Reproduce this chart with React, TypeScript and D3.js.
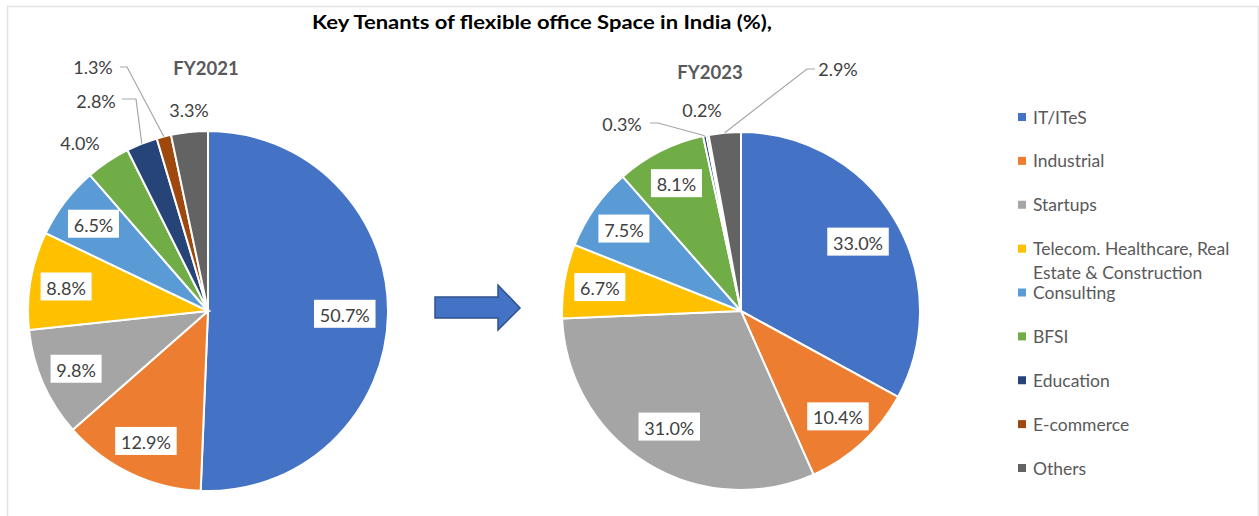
import React from 'react';
import * as d3 from 'd3';

// categories and shares (%)
const categories = ['IT/ITeS', 'Industrial', 'Startups', 'Telecom. Healthcare, Real Estate & Construction', 'Consulting', 'BFSI', 'Education', 'E-commerce', 'Others'];
const legendLines = [['IT/ITeS'], ['Industrial'], ['Startups'], ['Telecom. Healthcare, Real', 'Estate & Construction'], ['Consulting'], ['BFSI'], ['Education'], ['E-commerce'], ['Others']];
const fy2021 = [50.7, 12.9, 9.8, 8.8, 6.5, 4.0, 2.8, 1.3, 3.3];
const fy2023 = [33.0, 10.4, 31.0, 6.7, 7.5, 8.1, 0.3, 0.2, 2.9];
const colors = ['#4472C4', '#ED7D31', '#A5A5A5', '#FFC000', '#5B9BD5', '#70AD47', '#264478', '#9E480E', '#636363'];

// labels that sit outside the pie (offset from pie centre), with optional leader start/elbow
const outside2021 = {
  5: { dx: -128, dy: -168 },
  8: { dx: -19, dy: -201 },
  6: { dx: -112, dy: -210, lx: -86, ex: -72, ly: -212 },
  7: { dx: -115, dy: -244, lx: -88, ex: -81, ly: -244 },
};
const outside2023 = {
  6: { dx: -119, dy: -187, lx: -91, ex: -83, ly: -188 },
  7: { dx: -39, dy: -201 },
  8: { dx: 97, dy: -242, lx: 74, ex: 66, ly: -242 },
};

const font = 'Lato, "Open Sans", sans-serif';
const textGray = '#404040';

const Pie = ({ cx, cy, r, values, outside, year }) => {
  const pie = d3.pie().sort(null).value(d => d)(values);
  const arc = d3.arc().innerRadius(0).outerRadius(r);
  const edge = d3.arc().innerRadius(r).outerRadius(r);

  return (
    <g transform={'translate(' + cx + ',' + cy + ')'}>
      {pie.map((p, i) => (
        <path key={i} d={arc(p)} fill={colors[i]} stroke="#fff" strokeWidth={2} />
      ))}
      {pie.map((p, i) => {
        const label = values[i].toFixed(1) + '%';
        const o = outside[i];
        if (o) {
          const [ax, ay] = edge.centroid(p);
          return (
            <g key={'l' + i}>
              {o.lx !== undefined && (
                <polyline
                  points={o.lx + ',' + o.ly + ' ' + o.ex + ',' + o.ly + ' ' + ax + ',' + ay}
                  fill="none" stroke="#A6A6A6" strokeWidth={1.2} />
              )}
              <text x={o.dx} y={o.dy} textAnchor="middle" dominantBaseline="central"
                fontFamily={font} fontSize={18} fill={textGray}>{label}</text>
            </g>
          );
        }
        // inside labels: big slices sit a little closer to the centre
        const mid = (p.startAngle + p.endAngle) / 2;
        const lr = r * (values[i] > 25 ? 0.76 : 0.8);
        const x = Math.sin(mid) * lr;
        const y = -Math.cos(mid) * lr;
        const w = label.length * 10.5 + 9;
        return (
          <g key={'l' + i}>
            <rect x={x - w / 2} y={y - 14} width={w} height={28} fill="#fff" />
            <text x={x} y={y + 1} textAnchor="middle" dominantBaseline="central"
              fontFamily={font} fontSize={18} fill={textGray}>{label}</text>
          </g>
        );
      })}
      <text x={year.dx} y={year.dy} textAnchor="middle" dominantBaseline="central"
        fontFamily={font} fontWeight="bold" fontSize={18.5} fill="#595959">{year.text}</text>
    </g>
  );
};

const App = () => {
  const width = 1259;
  const height = 516;
  const legendY = d3.scaleLinear().domain([0, 8]).range([117, 468]);

  return (
    <svg width={width} height={height} style={{ position: 'absolute', left: 0, top: 0, background: '#fff' }}>
      <rect x={7.5} y={6.5} width={1251} height={520} fill="#fff" stroke="#E3E3E3" strokeWidth={1.5} />

      <text x={542} y={22} textAnchor="middle" dominantBaseline="central" fontFamily={font}
        fontWeight="bold" fontSize={18} fill="#000" textLength={460} lengthAdjust="spacingAndGlyphs">
        Key Tenants of flexible office Space in India (%),
      </text>

      <Pie cx={208} cy={311} r={180} values={fy2021} outside={outside2021}
        year={{ text: 'FY2021', dx: -2, dy: -243 }} />
      <Pie cx={741} cy={311} r={179} values={fy2023} outside={outside2023}
        year={{ text: 'FY2023', dx: -31, dy: -239 }} />

      {/* arrow between the two years */}
      <polygon points="435,297 498,297 498,285 520,308 498,330 498,318 435,318"
        fill="#4472C4" stroke="#2F528F" strokeWidth={1.5} />

      {/* legend */}
      {categories.map((c, i) => (
        <g key={c} transform={'translate(1018,' + legendY(i) + ')'}>
          <rect x={0} y={-4} width={8} height={8} fill={colors[i]} />
          {legendLines[i].map((line, j) => (
            <text key={j} x={15} y={j * 24} dominantBaseline="central" fontFamily={font}
              fontSize={17.5} fill="#595959">{line}</text>
          ))}
        </g>
      ))}
    </svg>
  );
};

export default App;
